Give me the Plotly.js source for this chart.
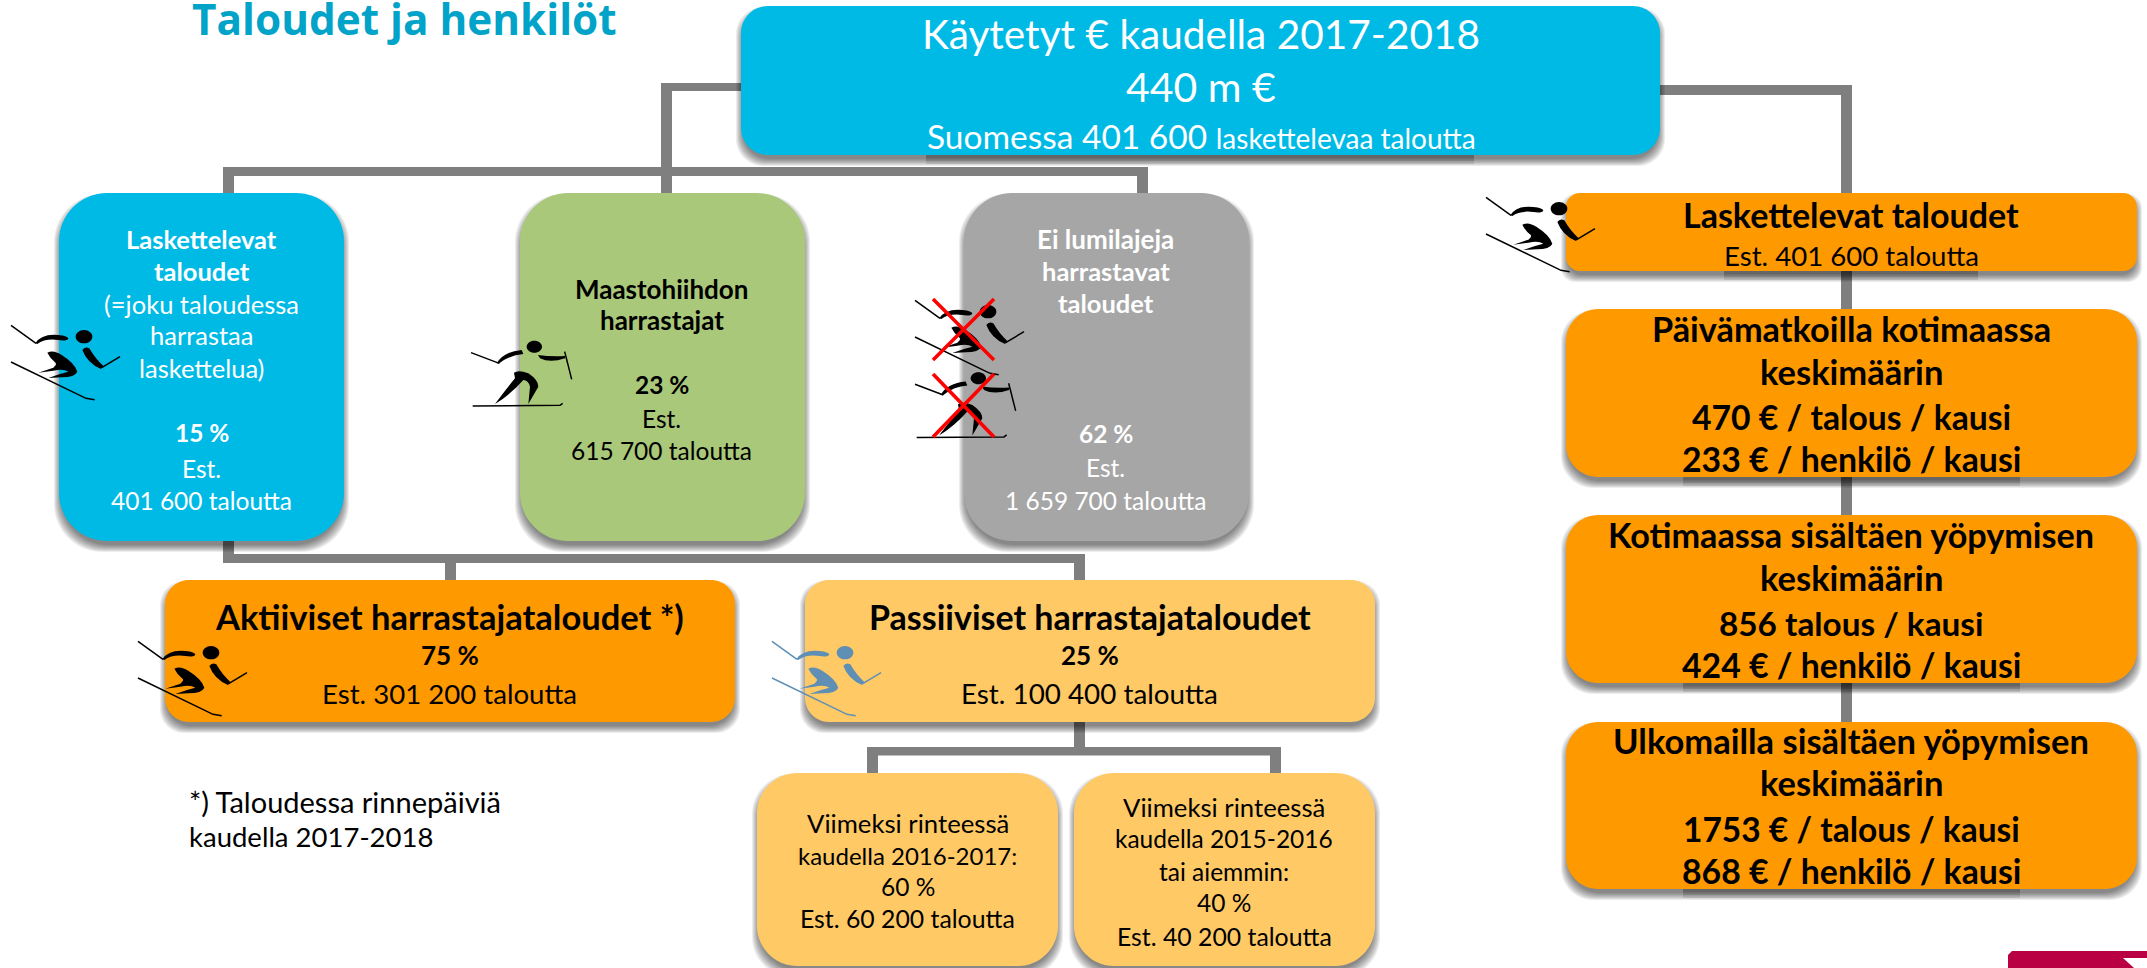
<!DOCTYPE html>
<html>
<head>
<meta charset="utf-8">
<script src="https://cdn.plot.ly/plotly-3.0.1.min.js"></script>
<style>html,body{margin:0;padding:0;background:#fff}#c{width:2147px;height:968px}</style>
</head>
<body>
<div id="c"></div>
<script>
// ---- Chart content ----
const pageTitle = "Taloudet ja henkilöt";
const totalLines = ["Käytetyt € kaudella 2017-2018", "440 m €", "Suomessa 401 600 <span style='font-size:28px'>laskettelevaa taloutta</span>"];
const downhillLines = ["<b>Laskettelevat</b>", "<b>taloudet</b>", "(=joku taloudessa", "harrastaa", "laskettelua)", "<b>15 %</b>", "Est.", "401 600 taloutta"];
const crossCountryLines = ["<b>Maastohiihdon</b>", "<b>harrastajat</b>", "<b>23 %</b>", "Est.", "615 700 taloutta"];
const noSnowLines = ["<b>Ei lumilajeja</b>", "<b>harrastavat</b>", "<b>taloudet</b>", "<b>62 %</b>", "Est.", "1 659 700 taloutta"];
const activeLines = ["<b>Aktiiviset harrastajataloudet *)</b>", "<b>75 %</b>", "Est. 301 200 taloutta"];
const passiveLines = ["<b>Passiiviset harrastajataloudet</b>", "<b>25 %</b>", "Est. 100 400 taloutta"];
const recentLines = ["Viimeksi rinteessä", "kaudella 2016-2017:", "60 %", "Est. 60 200 taloutta"];
const olderLines = ["Viimeksi rinteessä", "kaudella 2015-2016", "tai aiemmin:", "40 %", "Est. 40 200 taloutta"];
const footnoteLines = ["*) Taloudessa rinnepäiviä", "kaudella 2017-2018"];
const spendHeadLines = ["<b>Laskettelevat taloudet</b>", "Est. 401 600 taloutta"];
const dayTripLines = ["<b>Päivämatkoilla kotimaassa</b>", "<b>keskimäärin</b>", "<b>470 € / talous / kausi</b>", "<b>233 € / henkilö / kausi</b>"];
const domesticLines = ["<b>Kotimaassa sisältäen yöpymisen</b>", "<b>keskimäärin</b>", "<b>856 talous / kausi</b>", "<b>424 € / henkilö / kausi</b>"];
const abroadLines = ["<b>Ulkomailla sisältäen yöpymisen</b>", "<b>keskimäärin</b>", "<b>1753 € / talous / kausi</b>", "<b>868 € / henkilö / kausi</b>"];

// ---- Diagram layout (page pixels) ----
const W = 2147, H = 968;
const BLUE = "#00BAE6", GREEN = "#A9C87A", GREY = "#A6A6A6", ORANGE = "#FF9900", LIGHT = "#FFC966", LINE = "#7F7F7F";
const FONT = "Lato, Carlito, sans-serif";

const shapes = [];
const annotations = [];

function rrPath(x0, y0, x1, y1, r) {
  const k = r * 0.45;
  return `M${x0 + r} ${y0} L${x1 - r} ${y0} C${x1 - k} ${y0} ${x1} ${y0 + k} ${x1} ${y0 + r} L${x1} ${y1 - r} C${x1} ${y1 - k} ${x1 - k} ${y1} ${x1 - r} ${y1} L${x0 + r} ${y1} C${x0 + k} ${y1} ${x0} ${y1 - k} ${x0} ${y1 - r} L${x0} ${y0 + r} C${x0} ${y0 + k} ${x0 + k} ${y0} ${x0 + r} ${y0} Z`;
}
function addPath(path, fill, strokeColor, strokeWidth) {
  shapes.push({type: "path", xref: "x", yref: "y", path, layer: "above",
    fillcolor: fill || "rgba(0,0,0,0)",
    line: {color: strokeColor || "rgba(0,0,0,0)", width: strokeWidth || 0}});
}
function bar(x0, y0, x1, y1) {
  shapes.push({type: "rect", xref: "x", yref: "y", x0, y0, x1, y1, fillcolor: LINE, line: {width: 0}, layer: "above"});
}
function box(x0, y0, x1, y1, r, fill) {
  for (let k = 7; k >= 0; k--) {
    const g = k - 2;
    shapes.push({type: "path", xref: "x", yref: "y", path: rrPath(x0 - g, y0 + 6 - g, x1 + g, y1 + 6 + g, r),
      fillcolor: "rgba(0,0,0,0.075)", line: {width: 0}, layer: "above"});
  }
  addPath(rrPath(x0, y0, x1, y1, r), fill);
}
function textShadow(x0, x1, y) {
  [3, 6, 9].forEach(h => shapes.push({type: "rect", xref: "x", yref: "y", x0, x1, y0: y, y1: y + h,
    fillcolor: "rgba(0,0,0,0.09)", line: {width: 0}, layer: "above"}));
}
function lines(items, x, ys, size, color, anchor) {
  items.forEach((t, i) => annotations.push({
    xref: "x", yref: "y", x, y: ys[i], text: t, showarrow: false,
    xanchor: anchor || "center", yanchor: "middle", borderpad: 0,
    font: {family: FONT, size: Array.isArray(size) ? size[i] : size, color: color}
  }));
}
function place(t, ox, oy) {
  return t.replace(/(-?[\d.]+) (-?[\d.]+)/g, (m, a, b) => `${(+a / 3 + ox).toFixed(2)} ${(+b / 3 + oy).toFixed(2)}`);
}
function ellipse(cx, cy, rx, ry) {
  const kx = rx * 0.55, ky = ry * 0.55;
  return `M${cx - rx} ${cy} C${cx - rx} ${cy - ky} ${cx - kx} ${cy - ry} ${cx} ${cy - ry} C${cx + kx} ${cy - ry} ${cx + rx} ${cy - ky} ${cx + rx} ${cy} C${cx + rx} ${cy + ky} ${cx + kx} ${cy + ry} ${cx} ${cy + ry} C${cx - kx} ${cy + ry} ${cx - rx} ${cy + ky} ${cx - rx} ${cy} Z`;
}
function alpine(dx, dy, color) {
  const ox = dx, oy = 300 + dy;
  [
    "M33 76 L108 130", "M305 203 L360 170", "M33 186 L258 295 L284 299"
  ].forEach(p => addPath(place(p, ox, oy), null, color, 1.5));
  [
    "M106 130 Q125 100 175 105 Q205 108 205 116 Q200 124 175 120 Q135 115 112 132 Z",
    ellipse(252, 110, 25, 20),
    "M247 150 Q255 138 268 145 Q285 175 310 198 L303 207 Q262 190 247 150 Z",
    "M142 158 Q160 148 185 165 Q225 190 232 215 Q225 232 185 232 L145 234 L180 222 L205 215 Q190 205 160 212 L115 218 L160 203 Q170 195 168 190 Q150 175 142 158 Z"
  ].forEach(p => addPath(place(p, ox, oy), color));
}
function crossCountry(dx, dy, color) {
  const ox = 460 + dx, oy = 330 + dy;
  ["M33 68 L118 100", "M314 65 L335 148", "M38 228 L300 226 L308 220"]
    .forEach(p => addPath(place(p, ox, oy), null, color, 1.5));
  [
    "M110 100 Q130 65 185 60 L190 72 Q150 75 118 100 Z",
    ellipse(223, 50, 23, 18),
    "M234 75 Q270 80 315 78 L315 85 Q270 100 240 85 Z",
    "M162 128 Q175 118 205 130 Q235 150 235 170 L205 222 L210 170 Q205 150 190 150 Q150 195 105 222 Q140 175 165 145 Z"
  ].forEach(p => addPath(place(p, ox, oy), color));
}
function redCross(x0, y0, x1, y1) {
  addPath(`M${x0} ${y0} L${x1} ${y1}`, null, "#FF0000", 3.6);
  addPath(`M${x1} ${y0} L${x0} ${y1}`, null, "#FF0000", 3.6);
}

// connectors
bar(661, 83, 672, 193); bar(661, 83, 745, 91);
bar(223, 167, 1148, 176); bar(223, 167, 234, 193); bar(1137, 167, 1148, 193);
bar(1655, 85, 1852, 95); bar(1841, 85, 1852, 725);
bar(223, 535, 234, 563); bar(223, 554, 1085, 563); bar(445, 554, 456, 585); bar(1074, 554, 1085, 585);
bar(1074, 720, 1085, 755); bar(867, 747, 1281, 755.5); bar(867, 747, 878, 778); bar(1270, 747, 1281, 778);

// boxes
box(741, 6, 1660, 155, 27, BLUE);
box(59, 193, 344, 541, 48, BLUE);
box(520, 193, 805, 541, 48, GREEN);
box(964, 193, 1249, 541, 48, GREY);
box(165, 580, 735, 722, 24, ORANGE);
box(805, 580, 1375, 722, 24, LIGHT);
box(757, 773, 1058, 966, 40, LIGHT);
box(1074, 773, 1375, 966, 40, LIGHT);
box(1566, 193, 2137, 271, 14, ORANGE);
box(1566, 309, 2137, 477, 32, ORANGE);
box(1566, 515, 2137, 683, 32, ORANGE);
box(1566, 722, 2137, 889, 32, ORANGE);
textShadow(926, 1474, 155);
textShadow(1724, 1978, 271);
textShadow(1683, 2020, 477);
textShadow(1683, 2020, 683);
textShadow(1683, 2020, 889);

// pictograms
alpine(0, 0, "#000");
crossCountry(0, 0, "#000");
alpine(904, -25, "#000");
crossCountry(444, 31.6, "#000");
redCross(933, 299, 994, 360);
redCross(933, 374, 994, 437);
alpine(127, 316, "#000");
alpine(761, 316, "#5F8FB4");
alpine(1475, -128, "#000");

// corner logo fragment
shapes.push({type: "path", xref: "x", yref: "y", layer: "above",
  path: `M2012 951 L${W} 951 L${W} ${H} L2008 ${H} L2008 955 Z`, fillcolor: "#B80042", line: {width: 0}});
addPath(`M2123 958 L${W} 958 L${W} ${H} L2134 ${H} Z`, "#FFFFFF");

// texts
annotations.push({xref: "x", yref: "y", x: 191, y: 18, text: "<b>" + pageTitle + "</b>", showarrow: false,
  xanchor: "left", yanchor: "middle", borderpad: 0, font: {family: "'Open Sans', sans-serif", size: 42.3, color: "#02A3C8"}});
lines(totalLines, 1201, [33, 86, 136], [40.6, 41, 33.5], "#FFFFFF");
lines(downhillLines, 201.5, [239, 271, 303.5, 335, 368, 432, 468, 500], [25.5, 25.5, 25.5, 25.5, 25.5, 24.5, 24.5, 24.5], "#FFFFFF");
lines(crossCountryLines, 661.5, [288.5, 319.5, 384, 418.5, 450.5], [26, 26, 24.5, 24.5, 24.5], "#000000");
lines(noSnowLines, 1105.5, [239, 270.5, 303, 433, 467.5, 500], [26, 25.5, 25.5, 24.5, 24.5, 24.5], "#FFFFFF");
lines(activeLines, 449.5, [616, 655, 693], [34.5, 26, 27.6], "#000000");
lines(passiveLines, 1089.5, [616, 655, 693], [34, 26, 27.8], "#000000");
lines(recentLines, 907.5, [822.5, 855, 886.5, 918.5], [25.7, 24, 24.5, 24.8], "#000000");
lines(olderLines, 1224, [806.5, 838.5, 871, 902.5, 936.5], [25.7, 24.5, 24.5, 24.5, 24.8], "#000000");
lines(footnoteLines, 187.5, [801.5, 836.5], [29, 27.5], "#000000", "left");
lines(spendHeadLines, 1851, [214.5, 255], [34, 27.6], "#000000");
lines(dayTripLines, 1851, [328, 371, 417, 458.5], [34.3, 34.5, 33.7, 33.8], "#000000");
lines(domesticLines, 1851, [534, 577.5, 623, 665], [34.2, 34.5, 33.3, 33.8], "#000000");
lines(abroadLines, 1851, [740, 782.5, 829, 870.5], [34.5, 34.5, 33.5, 33.8], "#000000");

Plotly.newPlot("c", [], {
  width: W, height: H,
  margin: {l: 0, r: 0, t: 0, b: 0, pad: 0},
  paper_bgcolor: "#FFFFFF", plot_bgcolor: "#FFFFFF",
  showlegend: false,
  xaxis: {range: [0, W], visible: false, fixedrange: true},
  yaxis: {range: [H, 0], visible: false, fixedrange: true},
  shapes, annotations
}, {displayModeBar: false, staticPlot: true});
</script>
</body>
</html>
